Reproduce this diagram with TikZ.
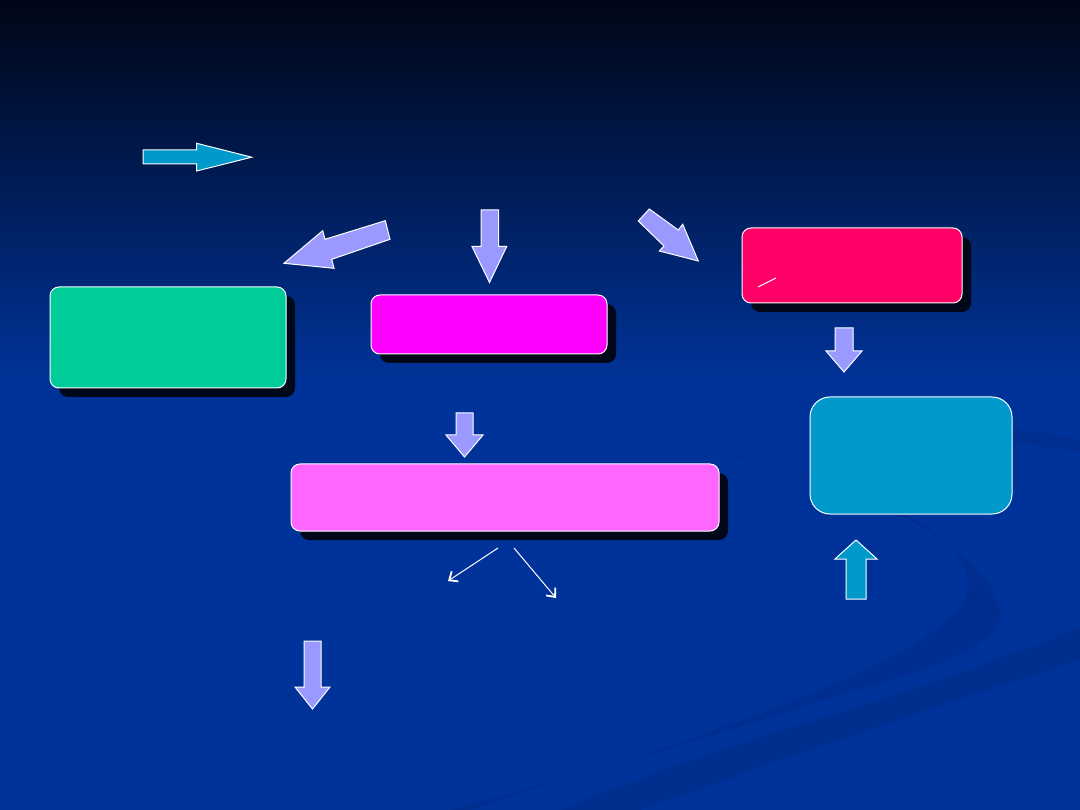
\documentclass[tikz,border=0pt]{standalone}
\usetikzlibrary{arrows.meta,shadows}
\definecolor{bgtop}{RGB}{0,6,22}
\definecolor{bgbot}{RGB}{0,51,153}
\definecolor{swoosh}{RGB}{0,44,138}
\definecolor{shadowc}{RGB}{0,8,26}
\definecolor{lilac}{RGB}{153,153,255}
\definecolor{cyanb}{RGB}{0,153,204}
\definecolor{redb}{RGB}{255,0,102}
\definecolor{greenb}{RGB}{0,204,153}
\definecolor{magb}{RGB}{255,0,255}
\definecolor{pinkb}{RGB}{255,102,255}
\tikzset{
  box/.style={draw=white, line width=1pt, rounded corners=9pt, inner sep=0pt,
    drop shadow={shadow xshift=9pt, shadow yshift=-9pt, opacity=1, fill=shadowc}},
  plainbox/.style={draw=white, line width=1pt, rounded corners=20pt, inner sep=0pt},
  barrow/.style={draw=white, line width=1pt, fill=lilac, line join=miter},
  carrow/.style={draw=white, line width=1pt, fill=cyanb, line join=miter},
  thin/.style={draw=white, line width=1pt, -{Straight Barb[length=7pt,width=12pt,line width=1.8pt]}}
}
\begin{document}
\begin{tikzpicture}[x=1pt,y=-1pt]
\useasboundingbox (0,0) rectangle (1080,810);
% background
\fill[bgbot] (0,0) rectangle (1080,810);
\shade[top color=bgtop, bottom color=bgbot] (0,0) rectangle (1080,380);
% faint swooshes
\fill[swoosh, opacity=0.7] (1080,628) .. controls (900,700) and (700,750) .. (560,810)
  -- (640,810) .. controls (780,760) and (950,700) .. (1080,660) -- cycle;
\fill[swoosh, opacity=0.6] (690,448) .. controls (850,470) and (1010,560) .. (1000,620)
  .. controls (990,660) and (880,680) .. (760,720) .. controls (640,760) and (520,790) .. (450,810)
  -- (470,810) .. controls (560,780) and (700,740) .. (820,690)
  .. controls (940,640) and (990,600) .. (960,560) .. controls (920,500) and (800,470) .. (690,448) -- cycle;
\fill[swoosh, opacity=0.5] (880,440) .. controls (960,420) and (1040,430) .. (1080,440)
  -- (1080,452) .. controls (1030,442) and (960,440) .. (880,440) -- cycle;
% boxes
\node[box, fill=redb, minimum width=220pt, minimum height=75pt] (red) at (852,265.5) {};
\node[box, fill=greenb, minimum width=236pt, minimum height=101pt] (green) at (168,337.5) {};
\node[box, fill=magb, minimum width=236pt, minimum height=59pt] (mag) at (489,324.5) {};
\node[box, fill=pinkb, minimum width=428pt, minimum height=67pt] (pink) at (505,497.5) {};
\node[plainbox, fill=cyanb, minimum width=202pt, minimum height=117pt] (cyanbox) at (911,455.5) {};
% small white stroke in red box
\draw[white, line width=1pt] (758,287) -- (776,278);
% top-left cyan arrow
\draw[carrow] (143,150) -- (196.7,150) -- (196.7,143.3) -- (251.7,157.2) -- (196.7,171) -- (196.7,164) -- (143,164) -- cycle;
% arrow down-left
\draw[barrow] (385.3,220.7) -- (325,239.3) -- (322.7,230.7) -- (284,263.3) -- (334,268.3) -- (331.7,259.3) -- (390,239.3) -- cycle;
% arrow down (top center)
\draw[barrow] (481,210) -- (498.5,210) -- (498.5,246.5) -- (506.7,246.5) -- (489.5,282.5) -- (472,246.5) -- (481,246.5) -- cycle;
% arrow down-right
\draw[barrow] (649.3,209) -- (678.3,230) -- (682.7,224.3) -- (698.3,261) -- (659.3,251) -- (664,246) -- (638.3,221) -- cycle;
% arrow below red box
\draw[barrow] (835,328) -- (853,328) -- (853,351) -- (862,351) -- (844,372) -- (826,351) -- (835,351) -- cycle;
% arrow below magenta box
\draw[barrow] (456,413) -- (473,413) -- (473,435) -- (483,435) -- (464.5,457) -- (446,435) -- (456,435) -- cycle;
% cyan up arrow
\draw[carrow] (846,599) -- (846,559) -- (835,559) -- (856,540) -- (877,559) -- (866,559) -- (866,599) -- cycle;
% bottom down arrow
\draw[barrow] (304,641) -- (321,641) -- (321,687) -- (330,687) -- (312.5,709) -- (295,687) -- (304,687) -- cycle;
% thin arrows from pink box
\coordinate (s1) at (498,548);
\coordinate (e1) at (448,581);
\coordinate (s2) at (514,548);
\coordinate (e2) at (556,598);
\draw[thin] (s1) -- (e1);
\draw[thin] (s2) -- (e2);
\end{tikzpicture}
\end{document}
